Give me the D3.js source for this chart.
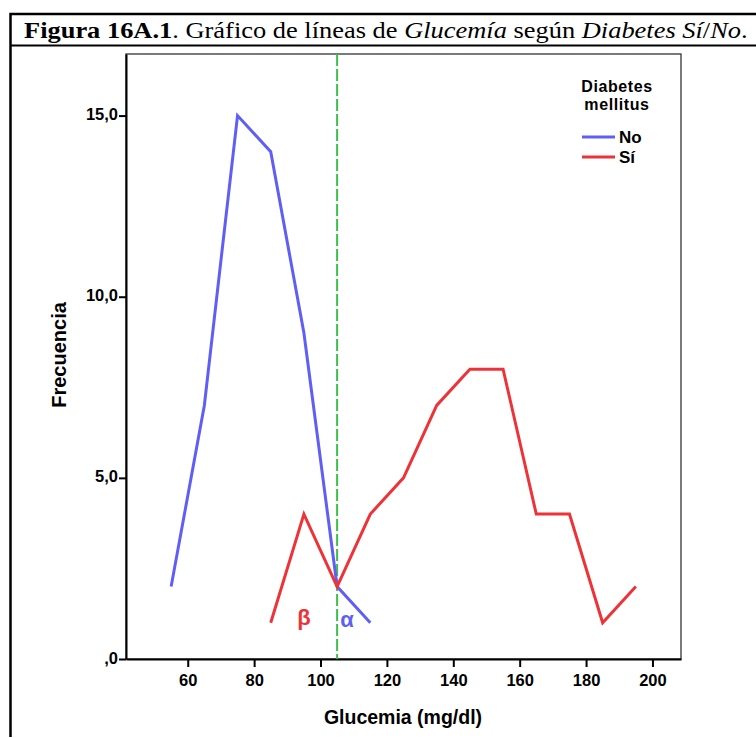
<!DOCTYPE html>
<html>
<head>
<meta charset="utf-8">
<title>Figura 16A.1</title>
<script src="https://cdn.jsdelivr.net/npm/d3@7"></script>
<style>
  body { margin: 0; background: #fff; }
  text { font-family: "Liberation Sans", Arial, sans-serif; }
  text.titulo, text.titulo tspan { font-family: "Times New Roman", "Liberation Serif", Tinos, serif; }
</style>
</head>
<body>
<script>
// data
var noX = [55, 65, 75, 85, 95, 105, 115];
var noY = [2, 7, 15, 14, 9, 2, 1];
var siX = [85, 95, 105, 115, 125, 135, 145, 155, 165, 175, 185, 195];
var siY = [1, 4, 2, 4, 5, 7, 8, 8, 4, 4, 1, 2];
var xTicks = [60, 80, 100, 120, 140, 160, 180, 200];
var yTicks = [0, 5, 10, 15];
var corte = 105;

var W = 756, H = 738;
var svg = d3.select("body").append("svg").attr("width", W).attr("height", H);

// outer box of the figure
svg.append("path")
  .attr("d", "M" + (W + 5) + ",14 H10.5 V" + (H - 1))
  .attr("fill", "none").attr("stroke", "#000").attr("stroke-width", 2.5);
svg.append("line").attr("x1", 10).attr("x2", W).attr("y1", 45.5).attr("y2", 45.5)
  .attr("stroke", "#000").attr("stroke-width", 2);

var title = svg.append("text").attr("class", "titulo").attr("x", 0).attr("y", 0)
  .style("font-size", "23.5px");
title.append("tspan").attr("font-weight", "bold").text("Figura 16A.1");
title.append("tspan").text(". Gráfico de líneas de ");
title.append("tspan").attr("font-style", "italic").text("Glucemía");
title.append("tspan").text(" según ");
title.append("tspan").attr("font-style", "italic").text("Diabetes Sí");
title.append("tspan").text("/");
title.append("tspan").attr("font-style", "italic").text("No");
title.append("tspan").text(".");
var tw = title.node().getComputedTextLength();
title.attr("transform", "translate(24,38) scale(" + (724 / tw) + ",1)");

var pLeft = 126, pRight = 681, pTop = 54, pBottom = 659;
var x = d3.scaleLinear().domain([41.4, 208.6]).range([pLeft, pRight]);
var y = d3.scaleLinear().domain([0, 16.7]).range([pBottom, pTop]);

// plot frame
svg.append("rect").attr("x", pLeft).attr("y", pTop)
  .attr("width", pRight - pLeft).attr("height", pBottom - pTop)
  .attr("fill", "none").attr("stroke", "#333").attr("stroke-width", 1.3);

var gx = svg.append("g").attr("transform", "translate(0," + pBottom + ")")
  .call(d3.axisBottom(x).tickValues(xTicks).tickSize(8).tickPadding(7).tickSizeOuter(0)
    .tickFormat(d3.format("d")));
var gy = svg.append("g").attr("transform", "translate(" + pLeft + ",0)")
  .call(d3.axisLeft(y).tickValues(yTicks).tickSize(7).tickPadding(1).tickSizeOuter(0)
    .tickFormat(function (d) { return d === 0 ? ",0" : d3.format(".1f")(d).replace(".", ","); }));
[gx, gy].forEach(function (g) {
  g.select(".domain").attr("stroke", "#000").attr("stroke-width", 2);
  g.selectAll(".tick line").attr("stroke", "#000").attr("stroke-width", 2);
  g.selectAll(".tick text").attr("fill", "#000")
    .style("font-family", "'Liberation Sans', Arial, sans-serif")
    .style("font-size", "16.5px").style("font-weight", "bold");
});
gy.selectAll(".tick text").attr("dy", "0.25em");

// axis titles
svg.append("text").attr("x", 403).attr("y", 724).attr("text-anchor", "middle")
  .style("font-size", "19.5px").style("font-weight", "bold").text("Glucemia (mg/dl)");
svg.append("text").attr("transform", "translate(66,355) rotate(-90)").attr("text-anchor", "middle")
  .style("font-size", "20px").style("font-weight", "bold").text("Frecuencia");

// vertical cut line
svg.append("line").attr("x1", x(corte)).attr("x2", x(corte)).attr("y1", pTop).attr("y2", pBottom)
  .attr("stroke", "#3cc04a").attr("stroke-width", 2).attr("stroke-dasharray", "12,3");

var line = d3.line().x(function (d) { return x(d[0]); }).y(function (d) { return y(d[1]); });
var blue = "#5f5ff5", red = "#ee3338";

svg.append("path").datum(d3.zip(noX, noY)).attr("d", line)
  .attr("fill", "none").attr("stroke", blue).attr("stroke-width", 3);
svg.append("path").datum(d3.zip(siX, siY)).attr("d", line)
  .attr("fill", "none").attr("stroke", red).attr("stroke-width", 3);

// greek labels
svg.append("text").attr("x", x(95)).attr("y", y(0.95)).attr("text-anchor", "middle")
  .attr("fill", red).style("font-size", "22px").style("font-weight", "bold").text("β");
svg.append("text").attr("x", x(108)).attr("y", y(0.88)).attr("text-anchor", "middle")
  .attr("fill", blue).style("font-size", "22px").style("font-weight", "bold").text("α");

// legend
var lg = svg.append("g");
lg.append("text").attr("x", 617).attr("y", 92).attr("text-anchor", "middle")
  .style("font-size", "16px").style("font-weight", "bold").style("letter-spacing", "0.6px").text("Diabetes");
lg.append("text").attr("x", 617).attr("y", 110).attr("text-anchor", "middle")
  .style("font-size", "16px").style("font-weight", "bold").style("letter-spacing", "0.6px").text("mellitus");
[["No", blue, 137], ["Sí", red, 157]].forEach(function (r) {
  lg.append("line").attr("x1", 582).attr("x2", 615).attr("y1", r[2]).attr("y2", r[2])
    .attr("stroke", r[1]).attr("stroke-width", 3);
  lg.append("text").attr("x", 619).attr("y", r[2] + 6)
    .style("font-size", "17px").style("font-weight", "bold").text(r[0]);
});
</script>
</body>
</html>
